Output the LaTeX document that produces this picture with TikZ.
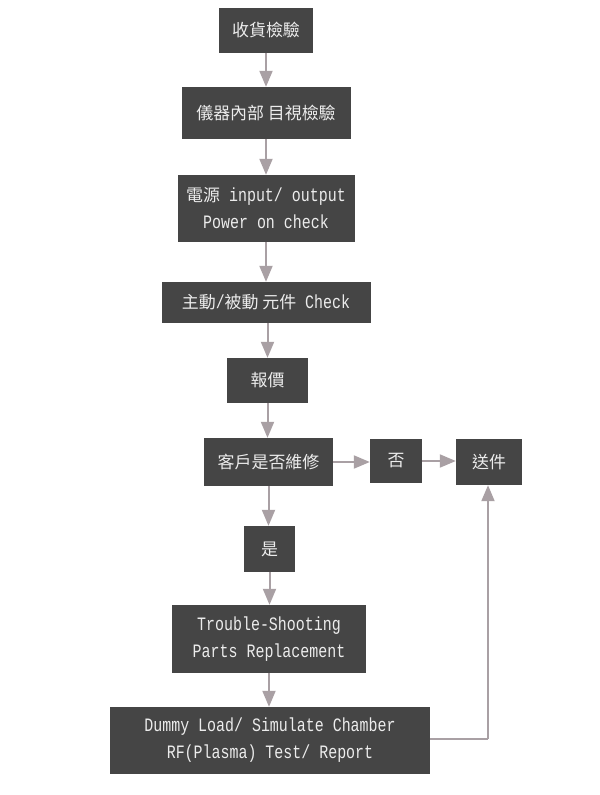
\documentclass[tikz,border=0pt]{standalone}
\usepackage{fontspec}
\setmainfont{Liberation Mono}[FakeStretch=0.79]
\newfontfamily\cjk{Noto Sans CJK TC}[Scale=1.0]
\usetikzlibrary{arrows.meta,calc}
\definecolor{boxfill}{HTML}{454545}
\definecolor{arrowgray}{HTML}{A9A0A4}
\definecolor{txt}{HTML}{ECECEC}
\tikzset{
  box/.style={fill=boxfill, text=txt, inner sep=0pt, align=center,
    font=\fontsize{19}{27}\selectfont},
  arr/.style={draw=arrowgray, line width=2bp,
    -{Triangle[width=13bp,length=16bp]}},
}
\newcommand{\zh}[1]{{\cjk\fontsize{17}{27}\selectfont #1}}
\begin{document}
\begin{tikzpicture}[x=1bp,y=-1bp]
\useasboundingbox[fill=white] (0,0) rectangle (600,795);
\node[box, minimum width=94bp, minimum height=45bp] (n1) at (266,30.5) {\zh{收貨檢驗}};
\node[box, minimum width=169bp, minimum height=52bp] (n2) at (266,113) {\zh{儀器內部 目視檢驗}};
\node[box, minimum width=177bp, minimum height=67bp] (n3) at (266,208.5) {\zh{電源} input/ output\\Power on check};
\node[box, minimum width=209bp, minimum height=41bp] (n4) at (266,302.5) {\zh{主動}/\zh{被動 元件} Check};
\node[box, minimum width=81bp, minimum height=45bp] (n5) at (267.5,380.5) {\zh{報價}};
\node[box, minimum width=129bp, minimum height=48bp] (n6) at (268.5,462) {\zh{客戶是否維修}};
\node[box, minimum width=52bp, minimum height=44bp] (no) at (396,461) {\zh{否}};
\node[box, minimum width=66bp, minimum height=46bp] (send) at (489,462) {\zh{送件}};
\node[box, minimum width=51bp, minimum height=46bp] (yes) at (269.5,549) {\zh{是}};
\node[box, minimum width=194bp, minimum height=68bp] (ts) at (269,639) {Trouble-Shooting\\Parts Replacement};
\node[box, minimum width=320bp, minimum height=67bp] (dl) at (270,740.5) {Dummy Load/ Simulate Chamber\\RF(Plasma) Test/ Report};
\coordinate (corner) at (488,739);
\draw[arr] (n1.south) -- (n1.south |- n2.north);
\draw[arr] (n2.south) -- (n2.south |- n3.north);
\draw[arr] (n3.south) -- (n3.south |- n4.north);
\draw[arr] (n5.north |- n4.south) -- (n5.north);
\draw[arr] (n5.south) -- (n5.south |- n6.north);
\draw[arr] (n6.south) -- (n6.south |- yes.north);
\draw[arr] (yes.south) -- (yes.south |- ts.north);
\draw[arr] (ts.south) -- (ts.south |- dl.north);
\draw[arr] (n6.east) -- (no.west |- n6.east);
\draw[arr] (no.east) -- (send.west |- no.east);
\draw[draw=arrowgray, line width=2bp] (dl.east |- corner) -- (corner);
\draw[arr] (corner) -- (corner |- send.south);
\end{tikzpicture}
\end{document}
